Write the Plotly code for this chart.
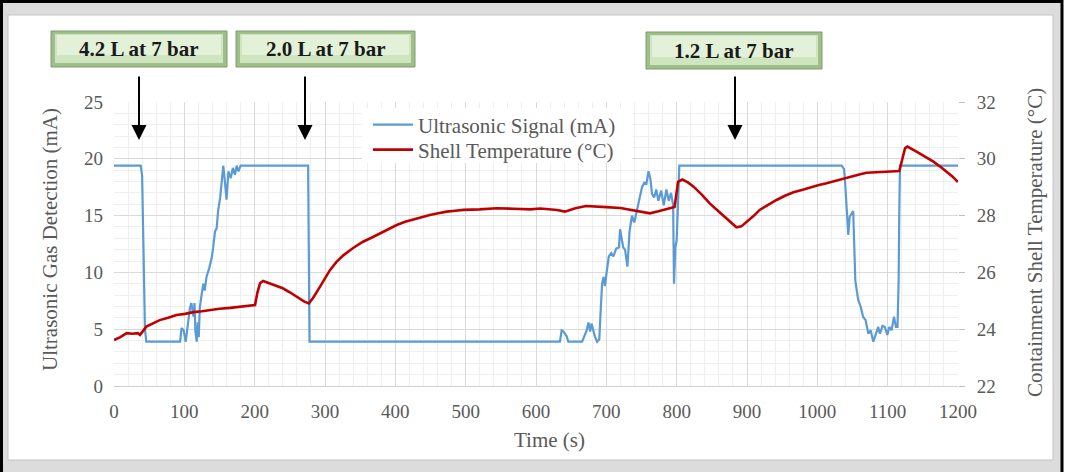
import plotly.graph_objects as go

# ---------------- data ----------------
sig_time = [0, 38, 40, 42, 44, 46, 94, 96, 99, 102, 105.7, 108, 110, 113, 114.5, 115.6, 117.6, 119, 120.5,
            122, 124.7, 127, 129, 131.5, 135.5, 139, 141, 143.6, 146, 148, 151, 153, 155.4, 158, 160,
            162.7, 166, 169, 172, 174.4, 177, 180, 276, 278, 634, 636.5, 639, 643.4, 646, 665.6, 668,
            672, 674.6, 677, 679, 681.4, 684, 687, 690, 692, 694, 696, 698, 700, 703.5, 707, 710, 714,
            718, 719.5, 722, 724, 726.6, 730, 733, 736.4, 739.7, 743.5, 747, 750.7, 754, 757, 760,
            762.5, 765, 768, 771, 774, 778, 781.6, 785.4, 788.7, 792, 795, 796.2, 798, 800, 801.6,
            803.8, 1034.6, 1038, 1039.6, 1041.6, 1044, 1046, 1048.5, 1051, 1052.5, 1054, 1058, 1061.6,
            1065, 1068.6, 1072.5, 1075.8, 1079.6, 1083, 1086.6, 1089, 1092.7, 1096, 1099.5, 1102.3,
            1105.6, 1109, 1111.7, 1114, 1115.6, 1116.5, 1117.5, 1200]
sig_mA = [19.4, 19.4, 18.5, 12.0, 5.0, 3.9, 3.9, 5.1, 4.9, 3.9, 6.1, 6.9, 7.3, 6.1, 7.3, 4.9, 3.9, 5.6, 4.3,
          6.9, 8.1, 9.0, 8.4, 9.6, 10.4, 11.3, 12.2, 13.6, 13.9, 15.4, 16.6, 17.8, 19.4, 17.8, 16.4,
          18.9, 18.3, 19.2, 18.6, 19.4, 18.9, 19.4, 19.4, 3.9, 3.9, 4.9, 4.8, 4.4, 3.9, 3.9, 4.3,
          4.9, 5.6, 4.8, 5.5, 4.9, 4.3, 3.9, 4.1, 6.7, 9.0, 9.6, 8.8, 9.8, 11.4, 11.7, 11.4, 12.1,
          12.2, 13.8, 12.8, 12.2, 12.0, 10.5, 13.6, 15.0, 14.4, 15.5, 16.3, 17.5, 17.9, 17.8, 18.9,
          18.3, 16.9, 16.6, 17.3, 16.3, 17.2, 15.9, 17.3, 16.3, 17.0, 15.9, 9.0, 12.2, 12.8, 16.3,
          19.4, 19.4, 19.1, 17.8, 15.8, 13.3, 14.9, 15.2, 15.4, 12.3, 9.3, 7.6, 7.0,
          6.1, 5.8, 4.6, 4.9, 3.9, 4.6, 5.2, 4.6, 5.3, 5.2, 4.5, 5.2,
          4.9, 6.1, 5.2, 5.2, 9.3, 15.2, 19.4, 19.4]

temp_time = [0, 9, 18, 26, 34, 37, 46, 55, 65, 77, 89, 101, 113, 125, 136, 150, 165, 179, 190, 200.5, 204,
             207.6, 212, 223, 240, 250, 260, 270, 277, 283, 293, 307, 316, 326, 340, 354, 366, 378, 390,
             402, 414, 426, 437, 449, 461, 473, 485, 497, 520, 544, 568, 592, 606, 620, 630, 641, 656,
             671, 685, 700, 720, 738, 750, 762, 774, 786, 797, 802, 808, 816, 824, 836, 847, 859, 871,
             885, 892, 900, 910, 918, 930, 942, 954, 966, 978, 990, 1001, 1013, 1025, 1037, 1049, 1061,
             1070, 1082, 1094, 1105, 1116.6, 1124.7, 1128, 1141, 1153, 1165, 1175, 1184, 1192, 1200]
temp_C = [23.62, 23.72, 23.86, 23.84, 23.86, 23.8, 24.09, 24.2, 24.32, 24.4, 24.5, 24.54, 24.6, 24.63, 24.68,
          24.72, 24.75, 24.79, 24.82, 24.85, 25.3, 25.62, 25.7, 25.6, 25.44, 25.3, 25.14, 24.98, 24.91,
          25.1, 25.5, 26.08, 26.36, 26.6, 26.86, 27.08, 27.22, 27.37, 27.52, 27.67, 27.78, 27.87, 27.95,
          28.02, 28.08, 28.14, 28.17, 28.2, 28.22, 28.26, 28.24, 28.22, 28.25, 28.22, 28.2, 28.14, 28.26,
          28.34, 28.31, 28.3, 28.27, 28.2, 28.14, 28.08, 28.15, 28.22, 28.3, 29.19, 29.27, 29.17, 29.02,
          28.73, 28.43, 28.16, 27.9, 27.59, 27.62, 27.78, 28.0, 28.2, 28.38, 28.55, 28.7, 28.82, 28.9,
          29.0, 29.07, 29.14, 29.22, 29.31, 29.4, 29.46, 29.51, 29.52, 29.53, 29.55, 29.57, 30.37, 30.43,
          30.25, 30.08, 29.9, 29.72, 29.55, 29.38, 29.18]

x_ticks = [0, 100, 200, 300, 400, 500, 600, 700, 800, 900, 1000, 1100, 1200]
left_ticks = [0, 5, 10, 15, 20, 25]
right_ticks = [22, 24, 26, 28, 30, 32]

event_labels = ["4.2 L at 7 bar", "2.0 L at 7 bar", "1.2 L at 7 bar"]

# ---------------- layout helpers (pixel -> paper) ----------------
W, H = 1066, 472
ML, MR, MT, MB = 114, 108, 102, 86
PW, PH = W - ML - MR, H - MT - MB


def px(x):
    return (x - ML) / PW


def py(y):
    return (H - MB - y) / PH


FONT = "Liberation Serif"
GREY = "#595959"

fig = go.Figure()
fig.add_trace(go.Scatter(x=sig_time, y=sig_mA, mode="lines", name="Ultrasonic Signal (mA)",
                         line=dict(color="#5b9bd5", width=2.2), legend="legend"))
fig.add_trace(go.Scatter(x=temp_time, y=temp_C, mode="lines", name="Shell Temperature (°C)",
                         line=dict(color="#c00000", width=2.6), yaxis="y2", legend="legend2"))

shapes = []
# outer frame (black edge + grey band) and inner white panel
shapes.append(dict(type="rect", xref="paper", yref="paper", x0=px(1.5), x1=px(1062), y0=py(480), y1=py(1.5),
                   line=dict(color="black", width=3), fillcolor="#dcdcdc", layer="below"))
shapes.append(dict(type="rect", xref="paper", yref="paper", x0=px(8), x1=px(1053), y0=py(460), y1=py(15),
                   line=dict(color="#c4c4c4", width=1), fillcolor="white", layer="below"))
# white backing for the legend block (covers the gridlines like the reference)
shapes.append(dict(type="rect", xref="paper", yref="paper", x0=px(362), x1=px(632), y0=py(163), y1=py(108),
                   line=dict(width=0), fillcolor="white", layer="above"))

# event label boxes (bevelled green)
boxes = [(51, 227, 31, 67), (236, 415, 31, 67), (646, 822, 32, 69)]
annotations = []
for (x0, x1, y0, y1), lab in zip(boxes, event_labels):
    shapes.append(dict(type="rect", xref="paper", yref="paper", x0=px(x0), x1=px(x1), y0=py(y1), y1=py(y0),
                       line=dict(color="#7f9c6c", width=1), fillcolor="#9fbf8a", layer="below"))
    shapes.append(dict(type="rect", xref="paper", yref="paper", x0=px(x0 + 4), x1=px(x1 - 4), y0=py(y1 - 4),
                       y1=py(y0 + 3), line=dict(width=0), fillcolor="#cfe5bf", layer="below"))
    shapes.append(dict(type="rect", xref="paper", yref="paper", x0=px(x0 + 6), x1=px(x1 - 6), y0=py(y1 - 12),
                       y1=py(y0 + 4), line=dict(width=0), fillcolor="#e3f1d8", layer="below"))
    annotations.append(dict(xref="paper", yref="paper", x=px((x0 + x1) / 2), y=py((y0 + y1) / 2),
                            text="<b>%s</b>" % lab, showarrow=False,
                            font=dict(family=FONT, size=21, color="#1a1a1a"),
                            xanchor="center", yanchor="middle"))

# arrows
for ax_px in [139, 305, 735]:
    annotations.append(dict(xref="paper", yref="paper", x=px(ax_px), y=py(140), text="",
                            showarrow=True, ax=0, ay=-65, axref="pixel", ayref="pixel",
                            arrowhead=2, arrowsize=1.5, arrowwidth=2, arrowcolor="black"))

# axis titles
annotations.append(dict(xref="paper", yref="paper", x=px(50), y=py(240), text="Ultrasonic Gas Detection (mA)",
                        textangle=-90, showarrow=False, font=dict(family=FONT, size=21, color=GREY),
                        xanchor="center", yanchor="middle"))
annotations.append(dict(xref="paper", yref="paper", x=px(1035), y=py(243),
                        text="Containment Shell Temperature (°C)", textangle=-90, showarrow=False,
                        font=dict(family=FONT, size=21, color=GREY), xanchor="center", yanchor="middle"))
annotations.append(dict(xref="paper", yref="paper", x=px(549), y=py(440), text="Time (s)", showarrow=False,
                        font=dict(family=FONT, size=21, color=GREY), xanchor="center", yanchor="middle"))

legend_common = dict(xanchor="left", yanchor="middle", bgcolor="rgba(0,0,0,0)",
                     font=dict(family=FONT, size=21, color=GREY), itemwidth=40, borderwidth=0)

fig.update_layout(
    width=W, height=H,
    margin=dict(l=ML, r=MR, t=MT, b=MB),
    paper_bgcolor="white",
    plot_bgcolor="rgba(0,0,0,0)",
    shapes=shapes,
    annotations=annotations,
    showlegend=True,
    legend=dict(x=px(368), y=py(125), **legend_common),
    legend2=dict(x=px(368), y=py(150), **legend_common),
    xaxis=dict(range=[0, 1200], tickvals=x_ticks, ticktext=[str(v) for v in x_ticks],
               showgrid=True, gridcolor="#d9d9d9", gridwidth=1,
               minor=dict(dtick=20, showgrid=True, gridcolor="#efefef", gridwidth=1),
               showline=True, linecolor="#cfcfcf", linewidth=1, zeroline=False, ticks="",
               tickfont=dict(family=FONT, size=19, color=GREY), ticklabelstandoff=8),
    yaxis=dict(range=[0, 25], tickvals=left_ticks, showgrid=True, gridcolor="#d9d9d9", gridwidth=1,
               minor=dict(dtick=1, showgrid=True, gridcolor="#efefef", gridwidth=1),
               zeroline=False, showline=False, ticks="",
               tickfont=dict(family=FONT, size=19, color=GREY), ticklabelstandoff=10),
    yaxis2=dict(range=[22, 32], tickvals=right_ticks, overlaying="y", side="right", showgrid=False,
                zeroline=False, showline=False, ticks="outside", ticklen=6, tickcolor="#bfbfbf",
                tickfont=dict(family=FONT, size=19, color=GREY), ticklabelstandoff=8),
)

fig.write_html("out.html", config={"displayModeBar": False})

# remove the default page margin so the figure sits at the window origin
with open("out.html", "r", encoding="utf-8") as f:
    html = f.read()
html = html.replace("<head>", "<head><style>html,body{margin:0;padding:0;overflow:hidden;}</style>", 1)
with open("out.html", "w", encoding="utf-8") as f:
    f.write(html)
